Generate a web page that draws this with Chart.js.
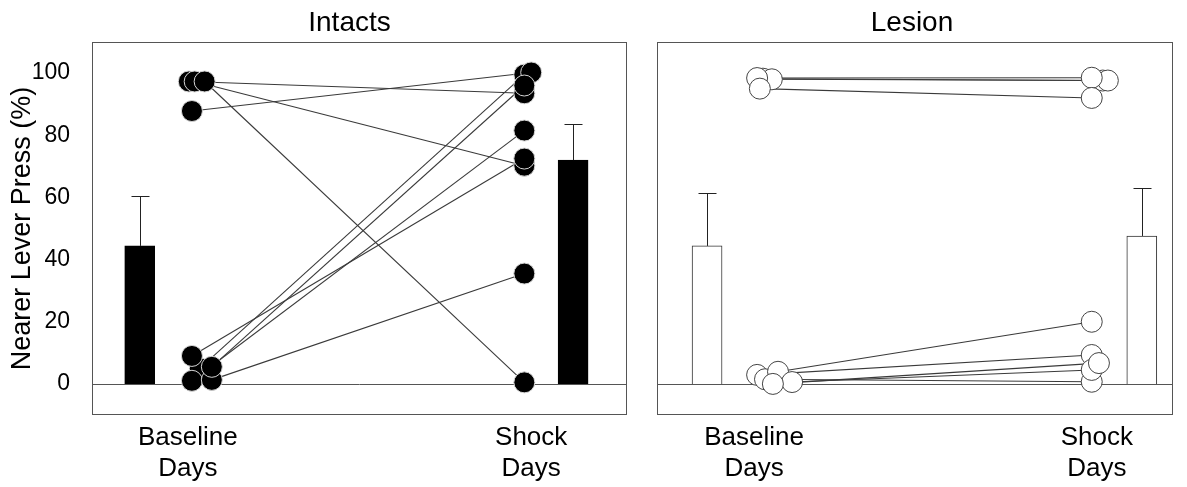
<!DOCTYPE html>
<html>
<head>
<meta charset="utf-8">
<script src="https://cdn.jsdelivr.net/npm/chart.js@4.4.1/dist/chart.umd.min.js"></script>
<style>
  html, body { margin: 0; padding: 0; background: #fff; }
  #wrap { position: relative; width: 1187px; height: 487px; overflow: hidden; }
  .panel { position: absolute; top: 0; height: 487px; }
  #intactBox { left: 0; width: 640px; }
  #lesionBox { left: 645px; width: 542px; }
</style>
</head>
<body>
<div id="wrap">
  <div class="panel" id="intactBox"><canvas id="intacts" width="640" height="487"></canvas></div>
  <div class="panel" id="lesionBox"><canvas id="lesion" width="542" height="487"></canvas></div>
</div>
<script>
// Phase labels (x = 1 baseline, x = 2 shock) and y tick values
const phaseLabels = [['Baseline', 'Days'], ['Shock', 'Days']];
const yTicks = [0, 20, 40, 60, 80, 100];

// Intact rats: group mean and SEM per phase, bar positions on the phase axis
const intactMeans = [44.4, 72.0];
const intactSem = [16.1, 11.6];
const intactBarX = [0.860, 2.122];
// Individual rats (same index = same rat), x is the jittered phase position
const intactBaseX  = [1.003, 1.020, 1.049, 1.035, 1.012, 1.012, 1.012, 1.070, 1.070];
const intactBase   = [97.3, 97.3, 97.3, 5.0, 87.8, 9.0, 1.0, 1.3, 5.5];
const intactShockX = [1.980, 1.980, 1.980, 1.980, 2.000, 1.980, 1.980, 1.980, 1.980];
const intactShock  = [93.5, 70.2, 0.5, 99.5, 100.2, 72.5, 81.5, 35.5, 96.0];

// Lesioned rats
const lesionMeans = [44.4, 47.6];
const lesionSem = [17.0, 15.4];
const lesionBarX = [0.863, 2.131];
const lesionBaseX  = [1.026, 1.052, 1.009, 1.017, 1.009, 1.032, 1.070, 1.111, 1.055];
const lesionBase   = [98.2, 98.0, 98.4, 95.0, 2.9, 1.5, 3.9, 0.6, 0.0];
const lesionShockX = [2.017, 2.032, 1.985, 1.985, 1.985, 1.985, 1.985, 1.985, 2.006];
const lesionShock  = [97.6, 97.6, 98.5, 92.0, 9.3, 0.7, 20.0, 4.5, 6.7];

Chart.defaults.font.family = '"Liberation Sans", Arial, sans-serif';
Chart.defaults.color = '#000';
Chart.defaults.animation = false;

// Zero line, upward SEM whiskers, panel frame and panel title
const panelDecor = {
  id: 'panelDecor',
  beforeDatasetsDraw(chart, args, o) {
    const { ctx, chartArea: a, scales: { y } } = chart;
    const y0 = Math.round(y.getPixelForValue(0)) + 0.5;
    ctx.save();
    ctx.strokeStyle = o.zeroColor;
    ctx.lineWidth = 1;
    ctx.beginPath();
    ctx.moveTo(a.left, y0);
    ctx.lineTo(a.right, y0);
    ctx.stroke();
    ctx.restore();
  },
  afterDatasetsDraw(chart, args, o) {
    const { ctx, chartArea: a, scales: { x, y } } = chart;
    ctx.save();
    ctx.lineWidth = 1;
    ctx.strokeStyle = o.whiskerColor;
    o.barX.forEach((bx, i) => {
      const px = Math.round(x.getPixelForValue(bx)) + 0.5;
      const top = y.getPixelForValue(o.means[i]);
      const tip = Math.round(y.getPixelForValue(o.means[i] + o.sem[i])) + 0.5;
      ctx.beginPath();
      ctx.moveTo(px, top);
      ctx.lineTo(px, tip);
      ctx.moveTo(px - o.capHalf, tip);
      ctx.lineTo(px + o.capHalf, tip);
      ctx.stroke();
    });
    ctx.strokeStyle = o.frameColor;
    ctx.strokeRect(Math.round(a.left) + 0.5, Math.round(a.top) + 0.5,
                   Math.round(a.right - a.left) - 1, Math.round(a.bottom - a.top) - 1);
    ctx.fillStyle = '#000';
    ctx.font = o.titleFont;
    ctx.textAlign = 'center';
    ctx.textBaseline = 'middle';
    ctx.fillText(o.title, (a.left + a.right) / 2 + o.titleShift, o.titleY);
    ctx.restore();
  }
};

function makePanel(id, p) {
  const datasets = [];
  // one connecting line per rat
  p.base.forEach((b, i) => {
    datasets.push({
      type: 'line',
      data: [{ x: p.baseX[i], y: b }, { x: p.shockX[i], y: p.shock[i] }],
      borderColor: '#3a3a3a', borderWidth: 1.1, pointRadius: 0, fill: false, order: 2
    });
  });
  datasets.push({
    type: 'bar',
    data: p.barX.map((bx, i) => ({ x: bx, y: p.means[i] })),
    backgroundColor: p.barFill, borderColor: p.barEdge, borderWidth: 1,
    barThickness: 30, order: 3
  });
  const dotStyle = {
    type: 'scatter', pointRadius: 10.5, pointHoverRadius: 10.5,
    pointBackgroundColor: p.dotFill, pointBorderColor: p.dotEdge, pointBorderWidth: 1,
    order: 0
  };
  datasets.push(Object.assign({ data: p.base.map((v, i) => ({ x: p.baseX[i], y: v })) }, dotStyle));
  datasets.push(Object.assign({ data: p.shock.map((v, i) => ({ x: p.shockX[i], y: v })) }, dotStyle));

  return new Chart(document.getElementById(id), {
    type: 'scatter',
    data: { datasets },
    options: {
      responsive: false,
      devicePixelRatio: 1,
      layout: { padding: p.padding },
      plugins: {
        legend: { display: false },
        tooltip: { enabled: false },
        panelDecor: {
          barX: p.barX, means: p.means, sem: p.sem, capHalf: 9,
          whiskerColor: '#222', frameColor: '#555', zeroColor: '#555',
          title: p.title, titleShift: p.titleShift, titleY: 23,
          titleFont: '28px "Liberation Sans", Arial, sans-serif'
        }
      },
      scales: {
        x: {
          type: 'linear', min: p.xMin, max: p.xMax, offset: false,
          grid: { display: false, drawTicks: false },
          border: { display: false },
          afterBuildTicks: s => { s.ticks = [{ value: 1 }, { value: 2 }]; },
          ticks: {
            callback: v => phaseLabels[Math.round(v) - 1] || '',
            font: { size: 26 }, padding: 7, maxRotation: 0, autoSkip: false, color: '#000'
          },
          afterFit: s => { s.height = 72; }
        },
        y: {
          type: 'linear', min: -10, max: 110,
          grid: { display: false, drawTicks: false },
          border: { display: false },
          afterBuildTicks: s => { s.ticks = yTicks.map(v => ({ value: v })); },
          ticks: { display: p.showY, font: { size: 23 }, padding: 22, color: '#000' },
          title: {
            display: p.showY, text: 'Nearer Lever Press (%)',
            font: { size: 27 }, padding: { top: 6, bottom: 0 }, color: '#000'
          },
          afterFit: s => { s.width = p.yWidth; }
        }
      }
    },
    plugins: [panelDecor]
  });
}

makePanel('intacts', {
  title: 'Intacts', titleShift: -10,
  xMin: 0.721, xMax: 2.279, showY: true, yWidth: 92,
  padding: { top: 42, right: 13, left: 0, bottom: 0 },
  barX: intactBarX, means: intactMeans, sem: intactSem,
  baseX: intactBaseX, base: intactBase, shockX: intactShockX, shock: intactShock,
  barFill: '#000', barEdge: '#000', dotFill: '#000', dotEdge: '#d4d4d4'
});

makePanel('lesion', {
  title: 'Lesion', titleShift: -3,
  xMin: 0.717, xMax: 2.222, showY: false, yWidth: 12,
  padding: { top: 42, right: 14, left: 0, bottom: 0 },
  barX: lesionBarX, means: lesionMeans, sem: lesionSem,
  baseX: lesionBaseX, base: lesionBase, shockX: lesionShockX, shock: lesionShock,
  barFill: '#fff', barEdge: '#333', dotFill: '#fff', dotEdge: '#444'
});
</script>
</body>
</html>
